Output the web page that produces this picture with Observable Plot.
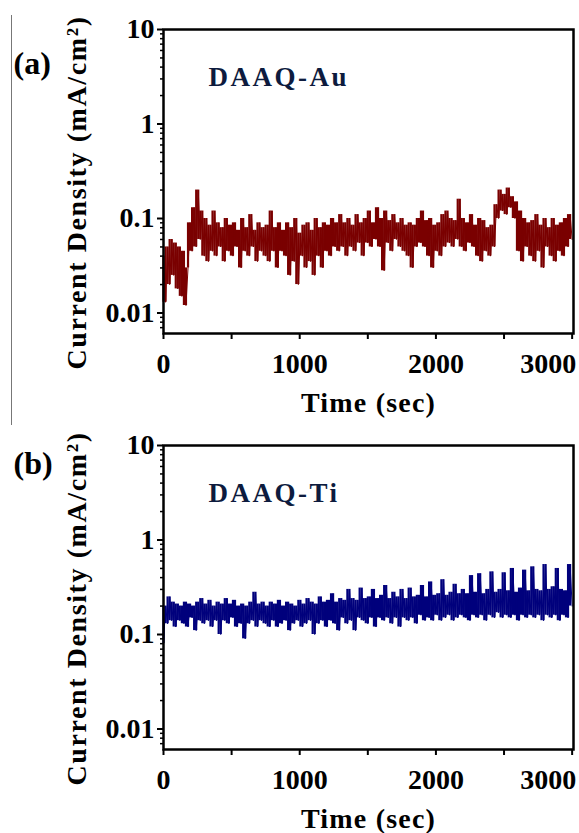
<!DOCTYPE html>
<html>
<head>
<meta charset="utf-8">
<script src="https://cdn.jsdelivr.net/npm/d3@7"></script>
<script src="https://cdn.jsdelivr.net/npm/@observablehq/plot@0.6"></script>
<style>
  html, body { margin: 0; padding: 0; background: #fff; }
  #page { position: relative; width: 579px; height: 833px; background: #fff; overflow: hidden; }
  #edge { position: absolute; left: 11px; top: 15px; width: 0; height: 410px; border-left: 1.5px solid #777; }
  .panel { position: absolute; left: 0; }
</style>
</head>
<body>
<div id="page">
  <div id="edge"></div>
  <div class="panel" id="pa" style="top:0px"></div>
  <div class="panel" id="pb" style="top:416px"></div>
</div>
<script>
// ---- data ----
const timeStep = 15; // seconds between samples
const auValues = [
0.04,0.013,0.05,0.02,0.06,0.025,0.055,0.018,0.05,0.015,
0.045,0.012,0.03,0.09,0.045,0.13,0.05,0.2,0.06,0.12,
0.04,0.1,0.035,0.085,0.045,0.12,0.04,0.09,0.05,0.08,
0.035,0.1,0.045,0.085,0.04,0.09,0.05,0.075,0.03,0.1,
0.045,0.08,0.04,0.11,0.05,0.075,0.035,0.09,0.045,0.08,
0.04,0.085,0.035,0.12,0.045,0.08,0.03,0.09,0.045,0.075,
0.04,0.09,0.025,0.08,0.035,0.1,0.02,0.07,0.04,0.085,
0.03,0.09,0.035,0.075,0.025,0.1,0.04,0.08,0.03,0.09,
0.045,0.085,0.04,0.1,0.05,0.09,0.045,0.11,0.05,0.09,
0.04,0.1,0.05,0.085,0.045,0.11,0.055,0.09,0.04,0.1,
0.055,0.12,0.05,0.09,0.06,0.13,0.05,0.1,0.028,0.12,
0.055,0.095,0.045,0.11,0.06,0.09,0.05,0.1,0.045,0.085,
0.04,0.09,0.03,0.085,0.05,0.1,0.055,0.12,0.05,0.095,
0.04,0.1,0.03,0.085,0.045,0.09,0.04,0.11,0.05,0.12,
0.055,0.1,0.05,0.095,0.06,0.16,0.05,0.1,0.045,0.09,
0.055,0.11,0.05,0.085,0.04,0.1,0.035,0.095,0.045,0.08,
0.04,0.085,0.05,0.14,0.1,0.2,0.12,0.18,0.11,0.21,
0.13,0.17,0.1,0.15,0.045,0.12,0.035,0.1,0.05,0.09,
0.04,0.095,0.035,0.11,0.045,0.085,0.03,0.1,0.05,0.08,
0.04,0.1,0.035,0.085,0.045,0.09,0.04,0.1,0.05,0.11,
0.06];
const tiValues = [
0.08,0.2,0.13,0.25,0.14,0.22,0.12,0.21,0.14,0.2,
0.13,0.22,0.12,0.21,0.15,0.2,0.11,0.22,0.14,0.24,
0.13,0.21,0.14,0.23,0.12,0.2,0.14,0.22,0.1,0.21,
0.14,0.24,0.13,0.21,0.15,0.23,0.12,0.2,0.13,0.21,
0.09,0.2,0.13,0.22,0.14,0.28,0.12,0.21,0.14,0.22,
0.13,0.2,0.12,0.22,0.14,0.21,0.12,0.23,0.13,0.2,
0.14,0.22,0.11,0.21,0.13,0.2,0.14,0.23,0.12,0.21,
0.13,0.24,0.14,0.22,0.1,0.21,0.13,0.25,0.14,0.22,
0.12,0.23,0.14,0.27,0.13,0.22,0.11,0.24,0.15,0.23,
0.13,0.3,0.14,0.24,0.11,0.23,0.15,0.31,0.14,0.24,
0.13,0.25,0.15,0.3,0.12,0.24,0.15,0.26,0.14,0.33,
0.15,0.24,0.13,0.28,0.15,0.25,0.12,0.3,0.15,0.24,
0.14,0.31,0.15,0.25,0.13,0.26,0.16,0.33,0.14,0.25,
0.15,0.36,0.14,0.26,0.16,0.27,0.14,0.38,0.15,0.26,
0.16,0.28,0.14,0.34,0.15,0.27,0.16,0.3,0.15,0.27,
0.14,0.42,0.16,0.28,0.15,0.44,0.16,0.27,0.14,0.3,
0.16,0.46,0.15,0.28,0.17,0.3,0.15,0.45,0.16,0.29,
0.15,0.5,0.16,0.28,0.14,0.31,0.16,0.48,0.15,0.29,
0.16,0.52,0.15,0.3,0.16,0.29,0.14,0.55,0.16,0.3,
0.15,0.32,0.16,0.5,0.14,0.3,0.16,0.29,0.15,0.55,
0.2];
const yMajorTicks = [0.01, 0.1, 1, 10];
const yMinorTicks = [0.007,0.008,0.009,0.02,0.03,0.04,0.05,0.06,0.07,0.08,0.09,0.2,0.3,0.4,0.5,0.6,0.7,0.8,0.9,2,3,4,5,6,7,8,9];
const xTicks = [0, 500, 1000, 1500, 2000, 2500, 3000];
const xLabelTicks = [0, 1000, 2000];
const xLastTick = [3000];
const xLabel = "Time (sec)";
const yLabel = "Current Density (mA/cm²)";

function panel(values, color, name, tag, tagDy) {
  const data = values.map((v, i) => ({t: i * timeStep, v}));
  // vertical strokes between consecutive samples, so the noisy trace reads as a solid band
  const steps = data.slice(0, -1).map((d, i) => ({t: d.t, a: d.v, b: data[i + 1].v}));
  const svg = Plot.plot({
    width: 579, height: 420,
    marginLeft: 163, marginRight: 6, marginTop: 29, marginBottom: 87,
    x: {domain: [0, 3010]},
    y: {type: "log", domain: [0.00607, 10]},
    style: {fontFamily: "'Liberation Serif', 'Times New Roman', serif", fontWeight: "bold", fontSize: "28px", color: "#000", background: "transparent"},
    marks: [
      Plot.ruleX(steps, {x: "t", y1: "a", y2: "b", stroke: color, strokeWidth: 2.2}),
      Plot.line(data, {x: "t", y: "v", stroke: color, strokeWidth: 1}),
      Plot.frame({stroke: "#000", strokeWidth: 2.5}),
      Plot.axisY({ticks: yMajorTicks, tickSize: 6, tickPadding: 3, strokeWidth: 2, tickFormat: d => String(d), label: null}),
      Plot.axisY({ticks: yMinorTicks, tickSize: 3, strokeWidth: 1.5, tickFormat: () => "", label: null}),
      Plot.axisX({ticks: xTicks, tickSize: 6, strokeWidth: 2, tickFormat: () => "", label: null}),
      Plot.axisX({ticks: xLabelTicks, tickSize: 0, tickPadding: 20, tickFormat: d3.format("d"), label: null}),
      Plot.axisX({ticks: xLastTick, tickSize: 0, tickPadding: 20, textAnchor: "end", dx: 4, tickFormat: d3.format("d"), label: null}),
      Plot.text([xLabel], {frameAnchor: "bottom", dy: 70, lineAnchor: "middle", textAnchor: "middle", text: d => d, fill: "#000"}),
      Plot.text([yLabel], {frameAnchor: "left", rotate: -90, dx: -86, dy: 11, lineAnchor: "middle", textAnchor: "middle", text: d => d, fill: "#000"}),
      Plot.text([tag], {frameAnchor: "top-left", dx: -150, dy: tagDy, textAnchor: "start", lineAnchor: "middle", text: d => d, fill: "#000", fontSize: 32}),
      Plot.text([name], {frameAnchor: "top-left", dx: 45, dy: 48, textAnchor: "start", lineAnchor: "middle", text: d => d, fill: "#0d1b3e", fontSize: 27})
    ]
  });
  const s = d3.select(svg);
  s.selectAll("text").filter(function() { return this.textContent === xLabel; }).attr("letter-spacing", "1.2px");
  s.selectAll("text").filter(function() { return this.textContent === yLabel; }).attr("letter-spacing", "1.6px");
  s.selectAll("text").filter(function() { return this.textContent === name; }).attr("letter-spacing", "2.5px");
  return svg;
}

document.getElementById("pa").appendChild(panel(auValues, "#7a0000", "DAAQ-Au", "(a)", 34));
document.getElementById("pb").appendChild(panel(tiValues, "#00007c", "DAAQ-Ti", "(b)", 18));
</script>
</body>
</html>
